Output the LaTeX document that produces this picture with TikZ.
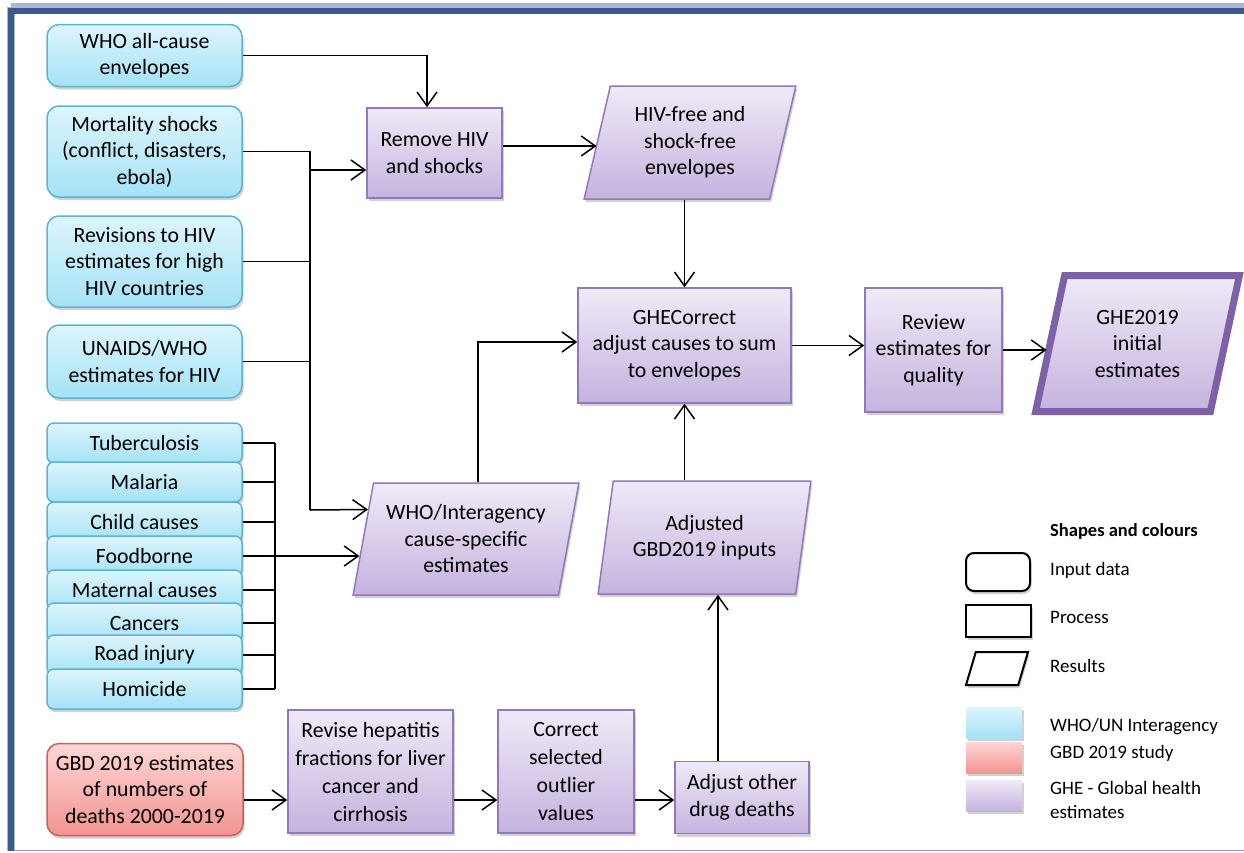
\documentclass[tikz,border=0pt]{standalone}
\usepackage{fontspec}
\setmainfont{Carlito}
\usetikzlibrary{arrows.meta,shapes.geometric,shadows,calc}
\definecolor{intop}{HTML}{DDF5FD}
\definecolor{inbot}{HTML}{A4E2F6}
\definecolor{inline}{HTML}{5BB5D0}
\definecolor{gbdtop}{HTML}{FFD6D5}
\definecolor{gbdbot}{HTML}{F29491}
\definecolor{gbdline}{HTML}{C9605C}
\definecolor{ghtop}{HTML}{EFEAF7}
\definecolor{ghbot}{HTML}{C5B3DE}
\definecolor{ghline}{HTML}{9278BC}
\definecolor{gheline}{HTML}{7E60A6}
\definecolor{framebl}{HTML}{3A5B8A}
\definecolor{framelt}{HTML}{A9B7D0}
\definecolor{framegr}{HTML}{8D9DBE}
\begin{document}
\begin{tikzpicture}[x=1pt,y=-1pt,
  font=\fontsize{21.8}{26.5}\selectfont,
  shd/.style={drop shadow={shadow xshift=1.5pt,shadow yshift=-3pt,opacity=0.3,fill=black!60}},
  inbox/.style={draw=inline,line width=1.5pt,rounded corners=12pt,top color=intop,bottom color=inbot,shd,align=center,inner sep=2pt,minimum width=195pt},
  stackbox/.style={inbox,rounded corners=7pt,minimum height=40pt},
  gbdbox/.style={inbox,draw=gbdline,top color=gbdtop,bottom color=gbdbot},
  procbox/.style={draw=ghline,line width=1.5pt,top color=ghtop,bottom color=ghbot,shd,align=center,inner sep=2pt},
  resbox/.style={procbox,trapezium,trapezium left angle=76,trapezium right angle=104,trapezium stretches=true},
  lgshape/.style={draw=black,line width=2pt,fill=white,shd,inner sep=2pt},
  swatch/.style={shd,inner sep=0pt,minimum width=56pt,minimum height=31pt},
  lglabel/.style={anchor=west,inner sep=0pt,align=left,font=\fontsize{19}{24}\selectfont},
  link/.style={line width=1.5pt,black},
  arr/.style={-{Straight Barb[length=14pt,width=20pt]}}]
\useasboundingbox (0,0) rectangle (1244,852);
\draw[line width=8pt,framelt] (10.5,7) -- (1244,7);
\draw[line width=8pt,framelt] (10.5,7) -- (10.5,851);
\draw[line width=6pt,framebl] (7.5,11) -- (1244,11);
\draw[line width=6pt,framebl] (10.5,8) -- (10.5,851);
\draw[line width=1.5pt,framegr] (14,850.5) -- (1244,850.5);
\node[inbox,minimum height=62pt] (wac) at (144.5,55.5) {WHO all-cause\\envelopes};
\node[inbox,minimum height=91pt] (mor) at (144.5,151.5) {Mortality shocks\\(conflict, disasters,\\ebola)};
\node[inbox,minimum height=91pt] (rhv) at (144.5,261.5) {Revisions to HIV\\estimates for high\\HIV countries};
\node[inbox,minimum height=73pt] (una) at (144.5,361.5) {UNAIDS/WHO\\estimates for HIV};
\node[stackbox] (tbc) at (144.5,443) {Tuberculosis};
\node[stackbox] (mal) at (144.5,482) {Malaria};
\node[stackbox] (chc) at (144.5,522) {Child causes};
\node[stackbox] (fdb) at (144.5,556) {Foodborne};
\node[stackbox] (mat) at (144.5,590) {Maternal causes};
\node[stackbox] (can) at (144.5,623) {Cancers};
\node[stackbox] (rdi) at (144.5,655) {Road injury};
\node[stackbox] (hom) at (144.5,689) {Homicide};
\node[gbdbox,minimum width=196pt,minimum height=92pt] (gbd) at (145,789.5) {GBD 2019 estimates\\of numbers of\\deaths 2000-2019};
\node[procbox,minimum width=135pt,minimum height=90pt] (rem) at (434.5,153) {Remove HIV\\and shocks};
\node[resbox,minimum width=212pt,minimum height=113pt] (hfe) at (690,142.5) {HIV-free and\\shock-free\\envelopes};
\node[procbox,minimum width=213pt,minimum height=115pt] (ghc) at (684.5,345.5) {GHECorrect\\adjust causes to sum\\to envelopes};
\node[procbox,minimum width=137pt,minimum height=124pt] (rev) at (933.5,350) {Review\\estimates for\\quality};
\node[resbox,line width=7pt,draw=gheline,minimum width=204pt,minimum height=136pt] (ghe) at (1137.5,343.5) {GHE2019\\initial\\estimates};
\node[resbox,minimum width=226pt,minimum height=112pt] (wia) at (466,539) {WHO/Interagency\\cause-specific\\estimates};
\node[resbox,minimum width=213pt,minimum height=113pt] (agi) at (704.5,537.5) {Adjusted\\GBD2019 inputs};
\node[procbox,minimum width=165pt,minimum height=123pt,font=\fontsize{21.8}{28}\selectfont] (rvh) at (370.5,771.5) {Revise hepatitis\\fractions for liver\\cancer and\\cirrhosis};
\node[procbox,minimum width=136pt,minimum height=123pt,font=\fontsize{21.8}{28}\selectfont] (cso) at (566,771.5) {Correct\\selected\\outlier\\values};
\node[procbox,minimum width=134pt,minimum height=72pt] (aod) at (742,797.5) {Adjust other\\drug deaths};
\coordinate (bus) at (310,170);
\coordinate (busend) at (310,510);
\coordinate (kink) at (427,57);
\coordinate (kink2) at (478,342);
\coordinate (up) at (718,700);
\coordinate (row) at (0,800);
\coordinate (sbus) at (275,443);
\coordinate (wiatop) at ($(wia.top left corner)!0.24!(wia.bottom left corner)$);
\coordinate (wiabot) at ($(wia.top left corner)!0.65!(wia.bottom left corner)$);
\draw[link,arr] (wac.east) -- (wac.east -| kink) -- (kink |- rem.north);
\draw[link] (mor.east) -- (mor.east -| bus) -- (busend);
\draw[link] (rhv.east) -- (rhv.east -| bus);
\draw[link] (una.east) -- (una.east -| bus);
\draw[link,arr] (bus) -- (bus -| rem.west);
\draw[link,arr] (busend) -- (wiatop);
\foreach \n in {tbc,mal,chc,fdb,mat,can,rdi,hom}
  \draw[link] (\n.east) -- (\n.east -| sbus);
\draw[link] (tbc.east -| sbus) -- (hom.east -| sbus);
\draw[link,arr] (fdb.east -| sbus) -- (wiabot |- fdb.east);
\draw[link,arr] ([yshift=7pt]rem.east) -- ([yshift=7pt]rem.east -| hfe.west);
\draw[link,arr] (hfe.south -| ghc.north) -- (ghc.north);
\draw[link,arr] (wia.north -| kink2) -- (kink2) -- (kink2 -| ghc.west);
\draw[link,arr] (agi.north -| ghc.south) -- (ghc.south);
\draw[link,arr] (ghc.east) -- (ghc.east -| rev.west);
\draw[link,arr] (rev.east) -- (rev.east -| ghe.west);
\draw[link,arr] (aod.north -| up) -- (up |- agi.south);
\draw[link,arr] (gbd.east |- row) -- (rvh.west |- row);
\draw[link,arr] (rvh.east |- row) -- (cso.west |- row);
\draw[link,arr] (cso.east |- row) -- (aod.west |- row);
\node[lglabel,font=\bfseries\fontsize{18.5}{21}\selectfont] (lgt) at (1050,531) {Shapes and colours};
\node[lgshape,rounded corners=8pt,minimum width=64pt,minimum height=38pt] (lgi) at (998,572) {};
\node[lglabel] (lgil) at (1050,570) {Input data};
\node[lgshape,minimum width=65pt,minimum height=32pt] (lgp) at (998.5,621) {};
\node[lglabel] (lgpl) at (1050,617) {Process};
\node[lgshape,trapezium,trapezium left angle=77,trapezium right angle=103,trapezium stretches=true,minimum width=62pt,minimum height=33pt] (lgr) at (997,668.5) {};
\node[lglabel] (lgrl) at (1050,666) {Results};
\node[swatch,top color=intop,bottom color=inbot] (swb) at (994,722.5) {};
\node[lglabel] (swbl) at (1050,727) {WHO/UN Interagency};
\node[swatch,top color=gbdtop,bottom color=gbdbot] (swr) at (994,757.5) {};
\node[lglabel] (swrl) at (1050,753) {GBD 2019 study};
\node[swatch,top color=ghtop,bottom color=ghbot] (swp) at (994,795.5) {};
\node[lglabel] (swpl) at (1050,800) {GHE - Global health\\estimates};
\end{tikzpicture}
\end{document}
